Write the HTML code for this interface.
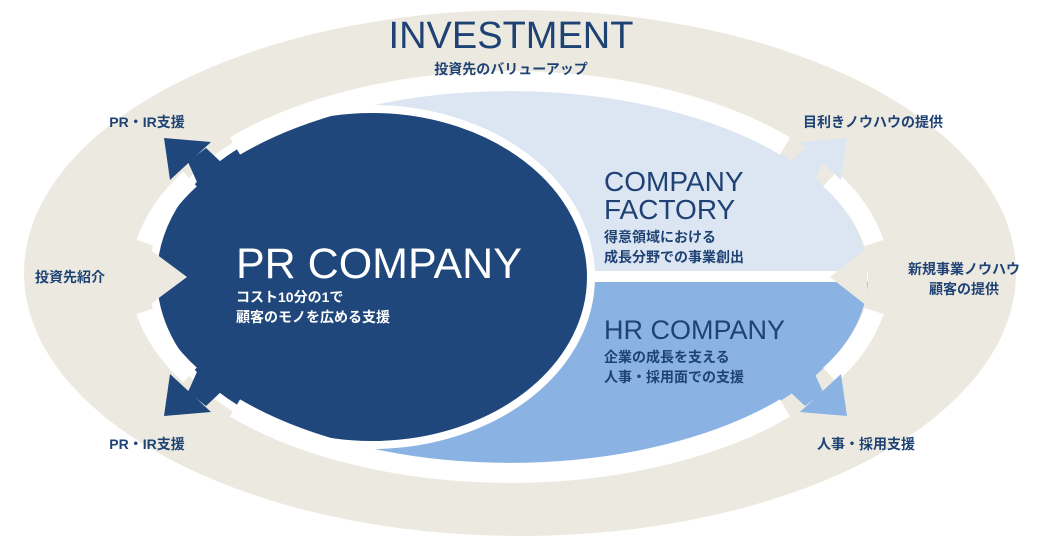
<!DOCTYPE html>
<html><head><meta charset="utf-8"><style>
html,body{margin:0;padding:0;background:#fff;width:1044px;height:544px;overflow:hidden}
svg{display:block}
text{font-family:"Liberation Sans","Noto Sans CJK JP",sans-serif}
.b{font-weight:bold;font-size:14px;fill:#1f4274}
</style></head><body>
<svg width="1044" height="544" viewBox="0 0 1044 544">
<ellipse cx="520" cy="273" rx="496" ry="263" fill="#eceae0"/>
<defs><clipPath id="c"><ellipse cx="510" cy="277" rx="358" ry="189"/></clipPath></defs>
<g clip-path="url(#c)">
<rect x="100" y="80" width="800" height="197" fill="#dce5f2"/>
<rect x="100" y="277" width="800" height="200" fill="#8ab3e3"/>
<rect x="100" y="271" width="800" height="11" fill="#fff"/>
</g>
<ellipse cx="372" cy="277" rx="219" ry="168" fill="#1f477b" stroke="#fff" stroke-width="8"/>
<polygon points="188,162 206,148 240,180 205,200" fill="#1f477b"/>
<polygon points="188,392 206,406 240,374 205,354" fill="#1f477b"/>
<polygon points="823,162 805,148 771,180 806,200" fill="#dce5f2"/>
<polygon points="823,392 805,406 771,374 806,354" fill="#8ab3e3"/>
<g fill="none" stroke="#fff" stroke-width="20">
<path d="M235,146 A370,196 0 0 1 785,146"/>
<path d="M830,179 A370,196 0 0 1 874,243"/>
<path d="M874,311 A370,196 0 0 1 830,375"/>
<path d="M785,408 A370,196 0 0 1 235,408"/>
<path d="M190,375 A370,196 0 0 1 146,311"/>
<path d="M146,243 A370,196 0 0 1 190,179"/>
</g>
<polygon points="164,138 211,142 170,180" fill="#1f477b"/>
<polygon points="164,416 211,412 170,374" fill="#1f477b"/>
<polygon points="187,277 148,248 148,306" fill="#eceae0"/>
<polygon points="830,277 867,248 867,306" fill="#eceae0"/>
<polygon points="847,138 800,142 841,180" fill="#dce5f2"/>
<polygon points="847,416 800,412 841,374" fill="#8ab3e3"/>
<text x="511" y="48" text-anchor="middle" font-size="38" fill="#1f4274">INVESTMENT</text>
<text x="511" y="74" text-anchor="middle" class="b">投資先のバリューアップ</text>
<text x="147" y="127" text-anchor="middle" class="b">PR・IR支援</text>
<text x="147" y="449" text-anchor="middle" class="b">PR・IR支援</text>
<text x="70" y="282" text-anchor="middle" class="b">投資先紹介</text>
<text x="873" y="127" text-anchor="middle" class="b">目利きノウハウの提供</text>
<text x="866" y="449" text-anchor="middle" class="b">人事・採用支援</text>
<text x="964" y="274" text-anchor="middle" class="b">新規事業ノウハウ</text>
<text x="964" y="294" text-anchor="middle" class="b">顧客の提供</text>
<text x="236" y="278" font-size="43" fill="#fff">PR COMPANY</text>
<text x="236" y="302" font-size="14" font-weight="bold" fill="#fff">コスト10分の1で</text>
<text x="236" y="322" font-size="14" font-weight="bold" fill="#fff">顧客のモノを広める支援</text>
<text x="604" y="191" font-size="28" fill="#1f4274">COMPANY</text>
<text x="604" y="219" font-size="28" fill="#1f4274">FACTORY</text>
<text x="604" y="242" class="b">得意領域における</text>
<text x="604" y="262" class="b">成長分野での事業創出</text>
<text x="604" y="339" font-size="27" fill="#1f4274">HR COMPANY</text>
<text x="604" y="362" class="b">企業の成長を支える</text>
<text x="604" y="382" class="b">人事・採用面での支援</text>
</svg>
</body></html>
